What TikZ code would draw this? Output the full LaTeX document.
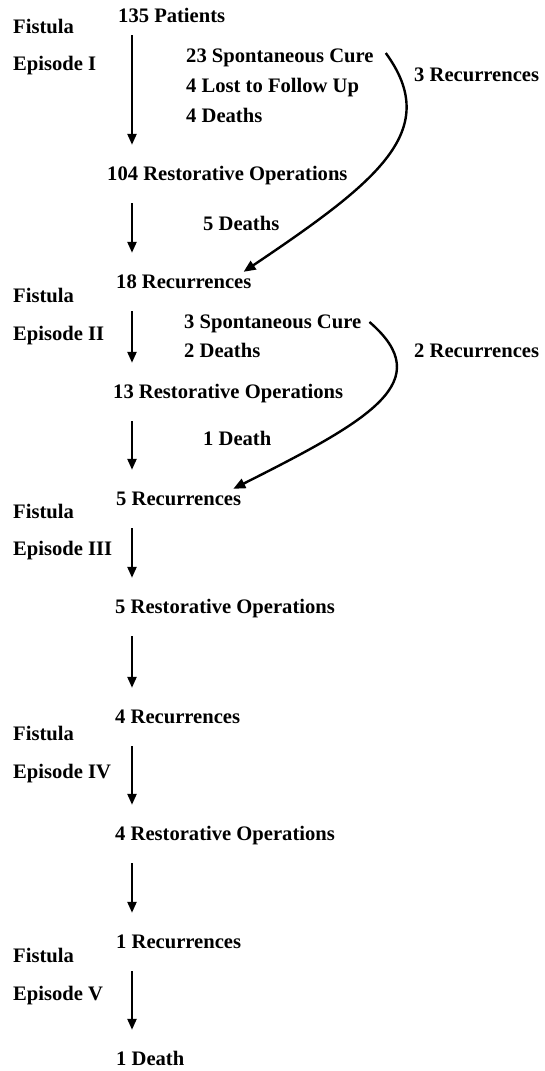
\documentclass[tikz,border=0pt]{standalone}
\usepackage{fontspec}
\setmainfont{Liberation Serif}
\usepackage{tikz}
\usetikzlibrary{arrows.meta, positioning, calc}

\tikzset{
    txt/.style={font=\bfseries\fontsize{20.6pt}{24pt}\selectfont, anchor=west, inner sep=0pt, text height=14pt, text depth=4pt},
    flow/.style={-{Triangle[width=9pt, length=11pt]}, line width=2.3pt, shorten <=19pt, shorten >=21pt},
    backflow/.style={-{Triangle[width=10pt, length=12pt]}, line width=2.4pt}
}

\begin{document}
\begin{tikzpicture}[x=1pt, y=-1pt]
    \useasboundingbox (0,0) rectangle (544,1071);
    \coordinate (axis) at (132,0);

    % Episode labels
    \node[txt] (fist1) at (13, 28) {Fistula};
    \node[txt] (epi1) at (13, 65) {Episode I};
    \node[txt] (fist2) at (13, 297) {Fistula};
    \node[txt] (epi2) at (13, 335) {Episode II};
    \node[txt] (fist3) at (13, 513) {Fistula};
    \node[txt] (epi3) at (13, 550) {Episode III};
    \node[txt] (fist4) at (13, 735) {Fistula};
    \node[txt] (epi4) at (13, 773) {Episode IV};
    \node[txt] (fist5) at (13, 957) {Fistula};
    \node[txt] (epi5) at (13, 995) {Episode V};

    % Episode I
    \node[txt] (patients) at (118, 17) {135 Patients};
    \node[txt] (spont1) at (186, 57) {23 Spontaneous Cure};
    \node[txt] (lost1) at (186, 87) {4 Lost to Follow Up};
    \node[txt] (deaths1) at (186, 117) {4 Deaths};
    \node[txt] (back1) at (414, 76) {3 Recurrences};
    \node[txt] (ops1) at (107, 175) {104 Restorative Operations};
    \node[txt] (deaths2) at (203, 225) {5 Deaths};
    \node[txt] (rec1) at (116, 283) {18 Recurrences};

    % Episode II
    \node[txt] (spont2) at (184, 323) {3 Spontaneous Cure};
    \node[txt] (deaths3) at (184, 352) {2 Deaths};
    \node[txt] (back2) at (414, 352) {2 Recurrences};
    \node[txt] (ops2) at (113, 393) {13 Restorative Operations};
    \node[txt] (deaths4) at (203, 440) {1 Death};
    \node[txt] (rec2) at (116, 500) {5 Recurrences};

    % Episodes III to V
    \node[txt] (ops3) at (115, 608) {5 Restorative Operations};
    \node[txt] (rec3) at (115, 718) {4 Recurrences};
    \node[txt] (ops4) at (115, 835) {4 Restorative Operations};
    \node[txt] (rec4) at (116, 943) {1 Recurrences};
    \node[txt] (deaths5) at (116, 1060) {1 Death};

    % Main flow
    \draw[flow, shorten <=9pt] (patients.south -| axis) -- (ops1.north -| axis);
    \draw[flow] (ops1.south -| axis) -- (rec1.north -| axis);
    \draw[flow] (rec1.south -| axis) -- (ops2.north -| axis);
    \draw[flow] (ops2.south -| axis) -- (rec2.north -| axis);
    \draw[flow] (rec2.south -| axis) -- (ops3.north -| axis);
    \draw[flow] (ops3.south -| axis) -- (rec3.north -| axis);
    \draw[flow] (rec3.south -| axis) -- (ops4.north -| axis);
    \draw[flow] (ops4.south -| axis) -- (rec4.north -| axis);
    \draw[flow] (rec4.south -| axis) -- (deaths5.north -| axis);

    % Recurrences after spontaneous cure
    \draw[backflow] ([xshift=12pt, yshift=4pt]spont1.east) .. controls (442, 130) and (380, 180) .. ([xshift=-8pt, yshift=2pt]rec1.north east);
    \draw[backflow] ([xshift=8pt, yshift=1pt]spont2.east) .. controls (438, 381) and (372, 419) .. ([xshift=-8pt, yshift=2pt]rec2.north east);

\end{tikzpicture}
\end{document}
